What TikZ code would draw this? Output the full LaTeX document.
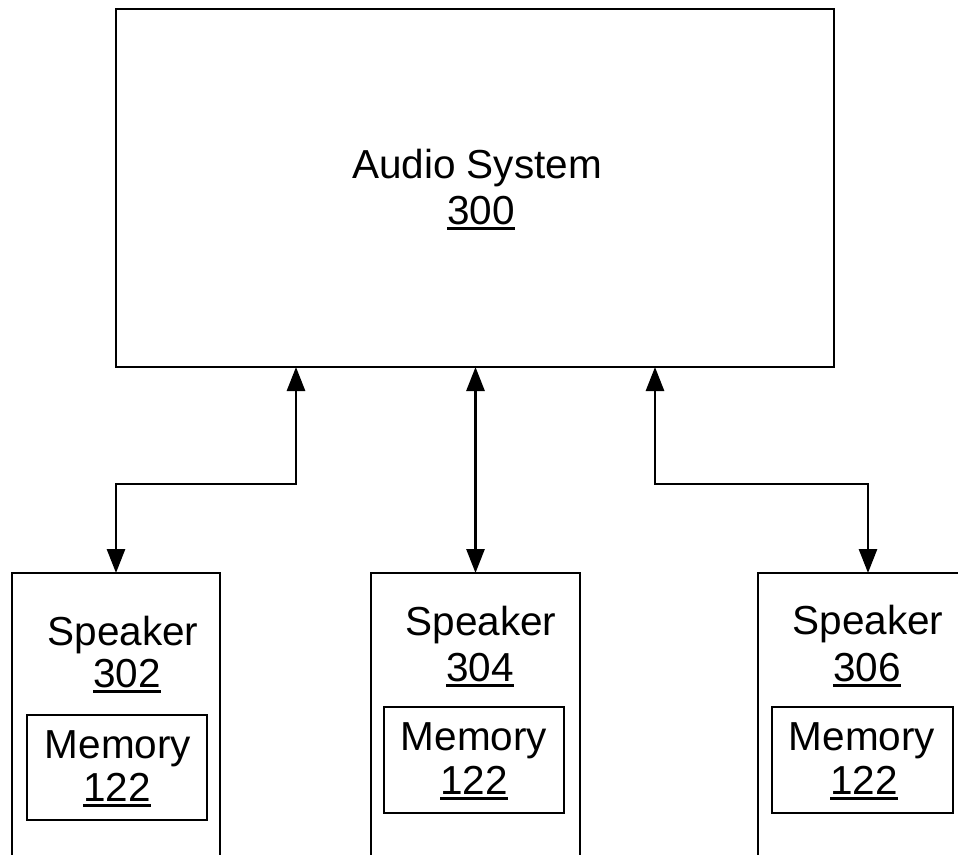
\documentclass[tikz,border=0pt]{standalone}
\usepackage{fontspec}
\setmainfont{Liberation Sans}
\usetikzlibrary{arrows.meta,calc}
\newcommand\myul[1]{\setbox0\hbox{#1}\rlap{\rule[-6pt]{\wd0}{2.6pt}}\box0}
\begin{document}
\begin{tikzpicture}[x=1pt,y=-1pt,
  box/.style={draw, line width=2.8pt, inner sep=0pt, outer sep=0pt},
  lbl/.style={anchor=base, inner sep=0pt, font=\fontsize{40.5}{46}\selectfont},
  link/.style={draw, line width=2.8pt, {Triangle[length=24pt,width=18pt]}-{Triangle[length=24pt,width=18pt]}}]
\useasboundingbox (0,0) rectangle (958,854);
\clip (0,0) rectangle (958,854);
% boxes
\node[box, minimum width=718pt, minimum height=358pt] (audio) at (475,188) {};
\node[box, minimum width=208pt, minimum height=400pt] (spk1) at (116,773) {};
\node[box, minimum width=209pt, minimum height=400pt] (spk2) at (475.5,773) {};
\node[box, minimum width=220pt, minimum height=400pt] (spk3) at (868,773) {};
\node[box, minimum width=180pt, minimum height=105pt] (mem1) at (117,767.5) {};
\node[box, minimum width=180pt, minimum height=106pt] (mem2) at (474,760) {};
\node[box, minimum width=181pt, minimum height=106pt] (mem3) at (862.5,760) {};
% labels
\node[lbl] (t1) at (477,178) {Audio System};
\node[lbl] (n1) at (481,224) {\myul{300}};
\node[lbl] (t2) at (123,645) {Speaker};
\node[lbl] (n2) at (127,687) {\myul{302}};
\node[lbl] (t3) at (481,635) {Speaker};
\node[lbl] (n3) at (480,681) {\myul{304}};
\node[lbl] (t4) at (868,634) {Speaker};
\node[lbl] (n4) at (867,681) {\myul{306}};
\node[lbl] (m1) at (118,758) {Memory};
\node[lbl] (k1) at (117,801) {\myul{122}};
\node[lbl] (m2) at (474,750) {Memory};
\node[lbl] (k2) at (474,794) {\myul{122}};
\node[lbl] (m3) at (862,750) {Memory};
\node[lbl] (k3) at (864,794) {\myul{122}};
% connectors
\coordinate (a1) at ($(audio.south)+(-179,0)$);
\coordinate (a3) at ($(audio.south)+(180,0)$);
\coordinate (j1) at ($(a1)+(0,117)$);
\coordinate (j3) at ($(a3)+(0,117)$);
\draw[link] (a1) -- (j1) -| (spk1.north);
\draw[link] (audio.south -| spk2.north) -- (spk2.north);
\draw[link] (a3) -- (j3) -| (spk3.north);
\end{tikzpicture}
\end{document}
